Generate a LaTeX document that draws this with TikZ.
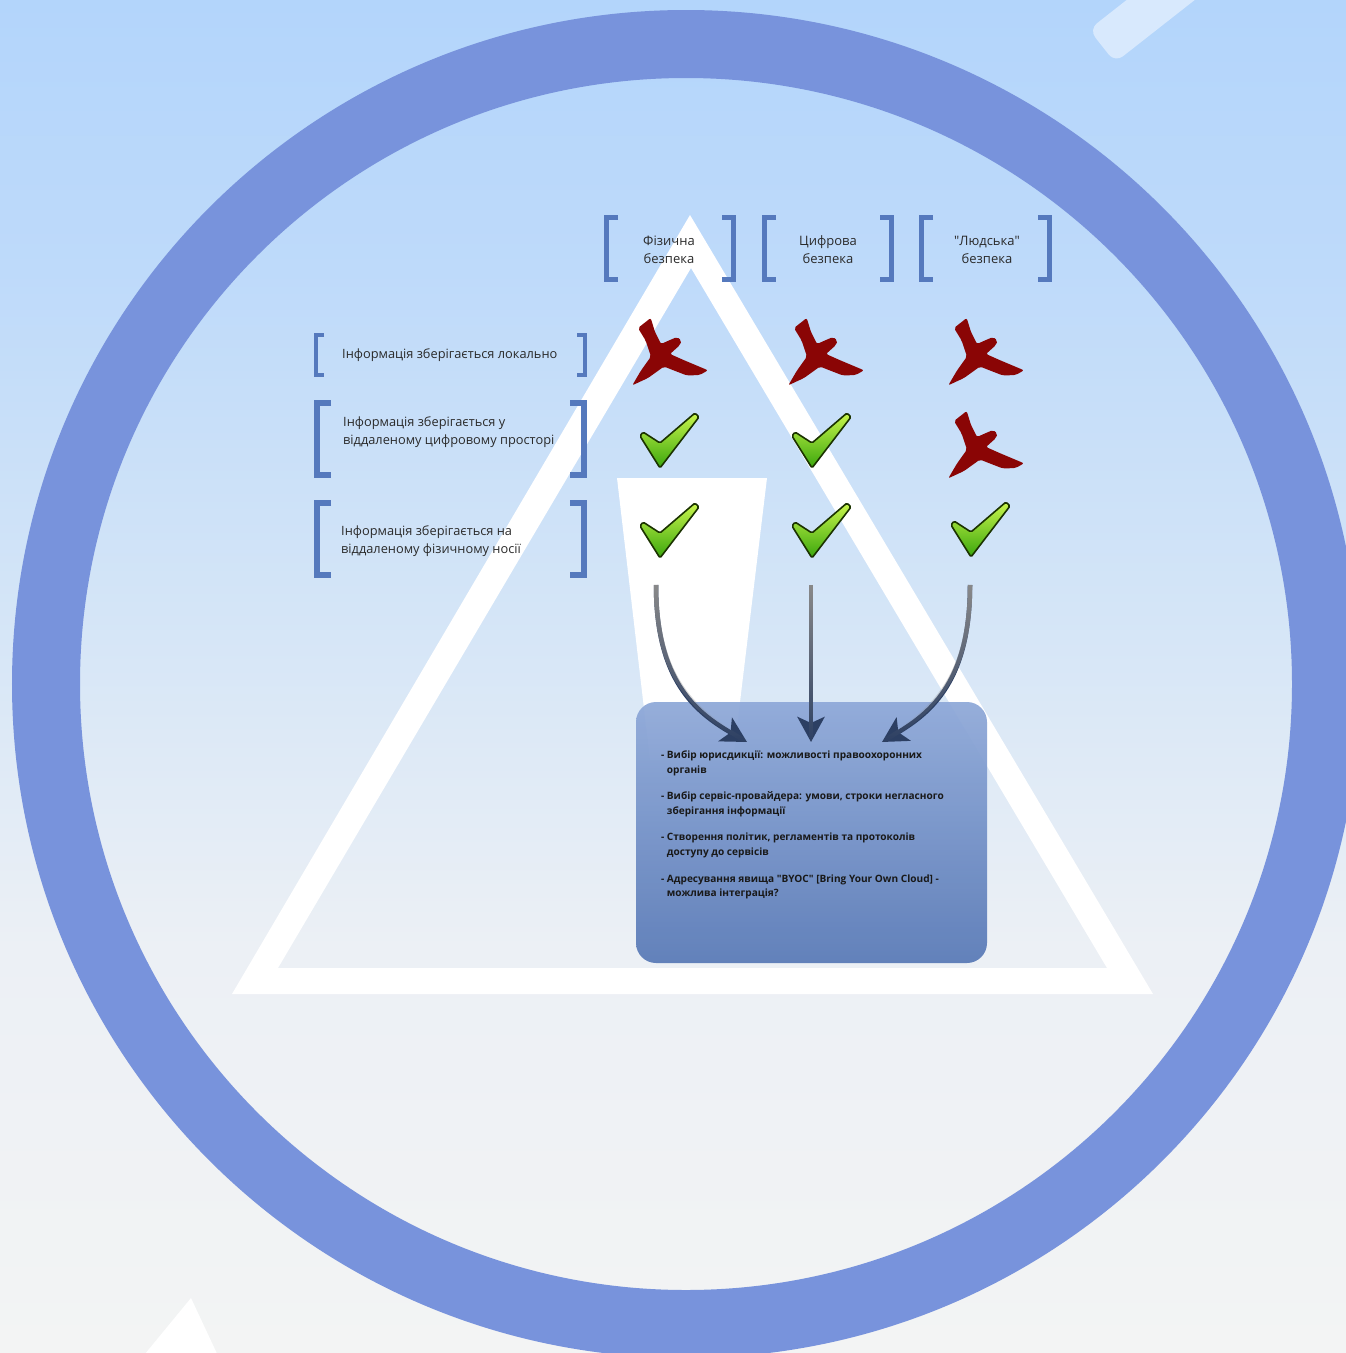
\documentclass[tikz,border=0pt]{standalone}
\usepackage{fontspec}
\setmainfont{Open Sans}
\usetikzlibrary{arrows.meta,fadings}
\definecolor{ringC}{HTML}{7893DC}
\definecolor{barC}{HTML}{D8E9FD}
\definecolor{bg0}{HTML}{F3F4F4}
\definecolor{bg1}{HTML}{ECF0F5}
\definecolor{bg2}{HTML}{D4E5F7}
\definecolor{bg3}{HTML}{BEDAFA}
\definecolor{bg4}{HTML}{B3D5FB}
\definecolor{brkC}{HTML}{5579BD}
\definecolor{txtC}{HTML}{2A2A2A}
\definecolor{crossC}{HTML}{8A0505}
\definecolor{chkTop}{HTML}{C8F54C}
\definecolor{chkBot}{HTML}{3AA60C}
\definecolor{chkLine}{HTML}{1B3300}
\definecolor{boxTop}{HTML}{8EA8D8}
\definecolor{boxBot}{HTML}{5879B6}
\definecolor{arrC}{HTML}{2C3F63}
\definecolor{arrG}{HTML}{8A8A8A}
\pgfdeclareverticalshading{bgsh}{100bp}{color(0bp)=(bg0); color(25bp)=(bg0); color(40bp)=(bg1); color(52.5bp)=(bg2); color(65bp)=(bg3); color(75bp)=(bg4); color(100bp)=(bg4)}
\newcommand\mybrackets[6]{%
  \draw[brk, line width=#5pt] ({#1+#6},{#3+#5/2}) -- ({#1+#5/2},{#3+#5/2}) -- ({#1+#5/2},{#4-#5/2}) -- ({#1+#6},{#4-#5/2});
  \draw[brk, line width=#5pt] ({#2-#6},{#3+#5/2}) -- ({#2-#5/2},{#3+#5/2}) -- ({#2-#5/2},{#4-#5/2}) -- ({#2-#6},{#4-#5/2});}
\tikzset{
  brk/.style={draw=brkC, miter limit=10},
  hdr/.style={align=center, inner sep=0pt, text=txtC, font=\fontsize{13}{18}\selectfont},
  lbl/.style={align=left, inner sep=0pt, text=txtC, font=\fontsize{12.8}{18.5}\selectfont, anchor=west},
  infobox/.style={rounded corners=20pt, top color=boxTop, bottom color=boxBot, fill opacity=0.93, draw=none, minimum width=351pt, minimum height=261pt, inner sep=0pt},
  boxtxt/.style={inner sep=0pt, anchor=north west, text=black!90, font=\fontsize{10.1}{14.3}\selectfont\bfseries},
  arr/.style={line width=4.5pt, draw=arrC, -{Stealth[length=25pt, width=27pt, inset=6pt]}, postaction={draw=arrG, path fading=south, -}},
  crossmk/.pic={\fill[crossC, rounded corners=2pt] (-32,-23) -- (-19.3,-33) -- (-15,-19) -- (-9,-7) -- (0,-11) -- (7,-14) -- (11.5,-10.5) -- (10,-6) -- (0,3) -- (14.7,9.5) -- (38,19.3) -- (29.7,24) -- (17,24.5) -- (4,19.5) -- (-6,15.5) -- (-22,27) -- (-37.7,34.3) -- (-29,19.5) -- (-19,5.5) -- (-24.5,-10.7) -- cycle;},
  checkmk/.pic={\shadedraw[top color=chkTop, bottom color=chkBot, draw=chkLine, line width=1.6pt, rounded corners=1.5pt, line join=round] (-9,27) -- (-29,-5) -- (-26,-9) -- (-9,2) -- (26,-28) -- (30,-24) -- cycle;}
}
\begin{document}
\begin{tikzpicture}[x=1pt,y=-1pt]
\useasboundingbox (0,0) rectangle (1346,1353);
\clip (0,0) rectangle (1346,1353);
% background
\shade[shading=bgsh] (0,0) rectangle (1346,1353);
% ring
\draw[ringC, line width=68pt] (686,684) circle[radius=640];
% pale bar top right
\fill[barC, rounded corners=10pt] (1115,62.5) -- (1089,29.5) -- (1286,-125) -- (1312,-92) -- cycle;
% white tip bottom left
\fill[white] (191,1298) -- (140,1360) -- (220,1360) -- cycle;
% big white triangle outline
\fill[white, even odd rule] (690,215) -- (1153,994) -- (232,994) -- cycle (691,268) -- (1107,968) -- (278,968) -- cycle;
% white trapezoid
\fill[white] (617,478) -- (767,478) -- (733,760) -- (650,760) -- cycle;
% header brackets and texts
\mybrackets{604}{736}{215}{282}{5}{14}
\mybrackets{762}{894}{215}{282}{5}{14}
\mybrackets{919}{1052}{215}{282}{5}{14}
\node[hdr] (h1) at (669,250) {Фізична\\безпека};
\node[hdr] (h2) at (828,250) {Цифрова\\безпека};
\node[hdr] (h3) at (987,250) {\textquotedbl Людська\textquotedbl\\безпека};
% row brackets and texts
\mybrackets{314}{587}{333}{377}{4}{10}
\mybrackets{314}{587}{400}{478}{6}{17}
\mybrackets{314}{587}{500}{578}{6}{17}
\node[lbl] (r1) at (342,355) {Інформація зберігається локально};
\node[lbl] (r2) at (343,432) {Інформація зберігається у\\віддаленому цифровому просторі};
\node[lbl] (r3) at (341,541) {Інформація зберігається на\\віддаленому фізичному носії};
% marks
\pic at (670,351) {crossmk};
\pic at (826,351) {crossmk};
\pic at (986,351) {crossmk};
\pic at (986,444) {crossmk};
\pic at (669,441) {checkmk};
\pic at (821,441) {checkmk};
\pic at (669,531) {checkmk};
\pic at (821,531) {checkmk};
\pic at (980,530) {checkmk};
% info box
\node[infobox] (box) at (811.5,832.5) {};
\node[boxtxt] (bt) at (661,748.5) {\begin{tabular}{@{}l@{\hspace{2.5pt}}l@{}}
- & Вибір юрисдикції: можливості правоохоронних\\
  & органів\\[12.5pt]
- & Вибір сервіс-провайдера: умови, строки негласного\\
  & зберігання інформації\\[12.5pt]
- & Створення політик, регламентів та протоколів\\
  & доступу до сервісів\\[12.5pt]
- & Адресування явища \textquotedbl BYOC\textquotedbl{} [Bring Your Own Cloud] -\\
  & можлива інтеграція?
\end{tabular}};
% arrows
\coordinate (s1) at (656,585); \coordinate (e1) at (747,742);
\coordinate (s2) at (811,585); \coordinate (e2) at (811,742);
\coordinate (s3) at (970,585); \coordinate (e3) at (882,742);
\draw[arr] (s1) .. controls (656,680) and (695,712) .. (e1);
\draw[arr] (s2) -- (e2);
\draw[arr] (s3) .. controls (970,680) and (932,712) .. (e3);
\end{tikzpicture}
\end{document}
